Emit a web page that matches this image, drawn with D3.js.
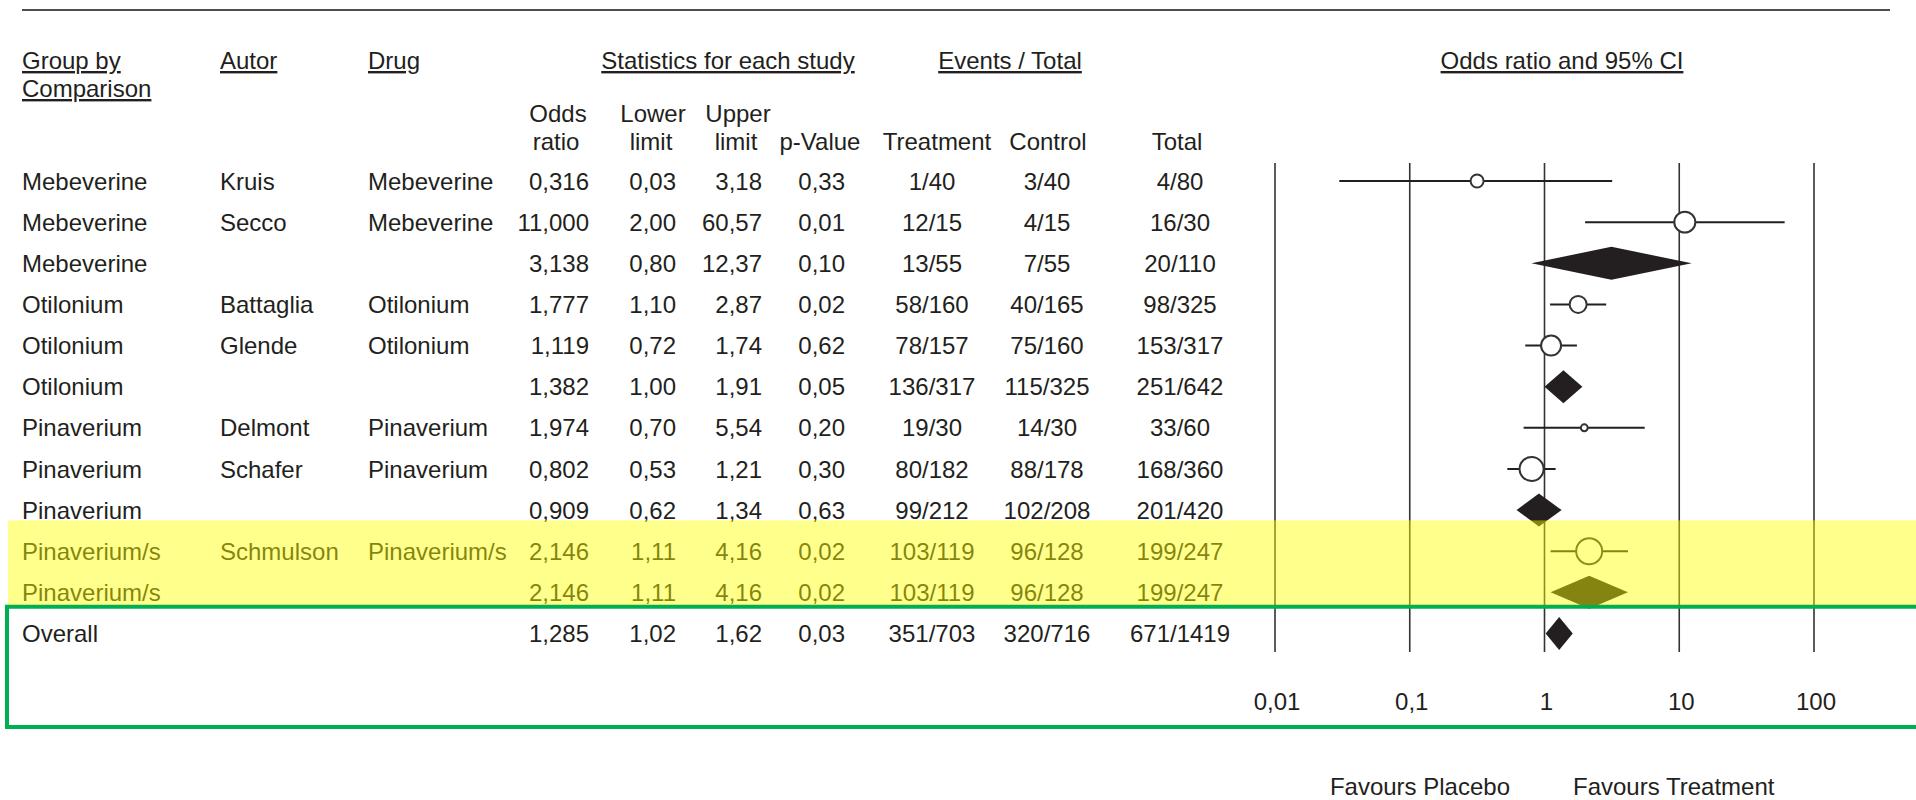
<!DOCTYPE html>
<html>
<head>
<meta charset="utf-8">
<script src="https://cdn.jsdelivr.net/npm/d3@7"></script>
<style>
  body { margin: 0; background: #fff; }
  svg { display: block; }
  text { font-family: "Liberation Sans", Arial, sans-serif; font-size: 24px; fill: #231f20; }
  .u { text-decoration: underline; }
</style>
</head>
<body>
<svg width="1916" height="800"></svg>
<script>
// ---- data ----
var groups = ["Mebeverine", "Mebeverine", "Mebeverine", "Otilonium", "Otilonium", "Otilonium",
  "Pinaverium", "Pinaverium", "Pinaverium", "Pinaverium/s", "Pinaverium/s", "Overall"];
var authors = ["Kruis", "Secco", "", "Battaglia", "Glende", "", "Delmont", "Schafer", "", "Schmulson", "", ""];
var drugs = ["Mebeverine", "Mebeverine", "", "Otilonium", "Otilonium", "", "Pinaverium", "Pinaverium", "",
  "Pinaverium/s", "", ""];
var oddsRatio = [0.316, 11.000, 3.138, 1.777, 1.119, 1.382, 1.974, 0.802, 0.909, 2.146, 2.146, 1.285];
var lowerLimit = [0.03, 2.00, 0.80, 1.10, 0.72, 1.00, 0.70, 0.53, 0.62, 1.11, 1.11, 1.02];
var upperLimit = [3.18, 60.57, 12.37, 2.87, 1.74, 1.91, 5.54, 1.21, 1.34, 4.16, 4.16, 1.62];
var pValue = [0.33, 0.01, 0.10, 0.02, 0.62, 0.05, 0.20, 0.30, 0.63, 0.02, 0.02, 0.03];
var treatment = ["1/40", "12/15", "13/55", "58/160", "78/157", "136/317", "19/30", "80/182", "99/212",
  "103/119", "103/119", "351/703"];
var control = ["3/40", "4/15", "7/55", "40/165", "75/160", "115/325", "14/30", "88/178", "102/208",
  "96/128", "96/128", "320/716"];
var totals = ["4/80", "16/30", "20/110", "98/325", "153/317", "251/642", "33/60", "168/360", "201/420",
  "199/247", "199/247", "671/1419"];
var isSummary = [false, false, true, false, false, true, false, false, true, false, true, true];
// relative study weight (marker area)
var weight = [42, 110, 0, 72, 100, 0, 12, 144, 0, 169, 0, 0];
var axisTicks = [0.01, 0.1, 1, 10, 100];
var highlightRows = [9, 10];

var rows = groups.map((g, i) => ({
  i: i, group: g, author: authors[i], drug: drugs[i],
  or: oddsRatio[i], lo: lowerLimit[i], hi: upperLimit[i], p: pValue[i],
  tr: treatment[i], ct: control[i], tot: totals[i],
  summary: isSummary[i], w: weight[i]
}));

var svg = d3.select("svg");
var ink = "#231f20";

var loc = d3.formatLocale({ decimal: ",", thousands: ".", grouping: [3], currency: ["", ""] });
var f3 = loc.format(".3f");
var f2 = loc.format(".2f");
var ftick = loc.format("~g");

var x = d3.scaleLog().domain([0.01, 100]).range([1275, 1814]);
var y = d3.scalePoint().domain(d3.range(rows.length)).range([181, 633.5]);
var r = d3.scaleSqrt().domain([0, 169]).range([0, 13]);

// top rule
svg.append("line")
  .attr("x1", 22).attr("x2", 1890).attr("y1", 10).attr("y2", 10)
  .attr("stroke", "#4d4d4d").attr("stroke-width", 2);

// ---- headers ----
var head = svg.append("g").attr("class", "header");
var h1 = [
  { t: "Group by", x: 22, y: 69, a: "start" },
  { t: "Comparison", x: 22, y: 97, a: "start" },
  { t: "Autor", x: 220, y: 69, a: "start" },
  { t: "Drug", x: 368, y: 69, a: "start" },
  { t: "Statistics for each study", x: 728, y: 69, a: "middle" },
  { t: "Events / Total", x: 1010, y: 69, a: "middle" },
  { t: "Odds ratio and 95% CI", x: 1562, y: 69, a: "middle" }
];
head.selectAll("text.u").data(h1).enter().append("text")
  .attr("class", "u")
  .attr("x", d => d.x).attr("y", d => d.y)
  .attr("text-anchor", d => d.a)
  .text(d => d.t);

var h2 = [
  { t: "Odds", x: 558, y: 122 }, { t: "ratio", x: 556, y: 150 },
  { t: "Lower", x: 653, y: 122 }, { t: "limit", x: 651, y: 150 },
  { t: "Upper", x: 738, y: 122 }, { t: "limit", x: 736, y: 150 },
  { t: "p-Value", x: 820, y: 150 },
  { t: "Treatment", x: 937, y: 150 },
  { t: "Control", x: 1048, y: 150 },
  { t: "Total", x: 1177, y: 150 }
];
head.selectAll("text.h2").data(h2).enter().append("text")
  .attr("class", "h2")
  .attr("x", d => d.x).attr("y", d => d.y)
  .attr("text-anchor", "middle")
  .text(d => d.t);

// ---- table ----
var cols = [
  { key: d => d.group, x: 22, a: "start" },
  { key: d => d.author, x: 220, a: "start" },
  { key: d => d.drug, x: 368, a: "start" },
  { key: d => f3(d.or), x: 589, a: "end" },
  { key: d => f2(d.lo), x: 676, a: "end" },
  { key: d => f2(d.hi), x: 762, a: "end" },
  { key: d => f2(d.p), x: 845, a: "end" },
  { key: d => d.tr, x: 932, a: "middle" },
  { key: d => d.ct, x: 1047, a: "middle" },
  { key: d => d.tot, x: 1180, a: "middle" }
];

var rowG = svg.append("g").attr("class", "rows")
  .selectAll("g").data(rows).enter().append("g")
  .attr("transform", d => "translate(0," + y(d.i) + ")");

cols.forEach(c => {
  rowG.append("text")
    .attr("x", c.x).attr("y", 8.6)
    .attr("text-anchor", c.a)
    .text(c.key);
});

// ---- forest plot ----
var plot = svg.append("g").attr("class", "plot");

plot.selectAll("line.grid").data(axisTicks).enter().append("line")
  .attr("class", "grid")
  .attr("x1", d => x(d)).attr("x2", d => x(d))
  .attr("y1", 163).attr("y2", 652)
  .attr("stroke", "#333").attr("stroke-width", 1.6);

plot.selectAll("text.tick").data(axisTicks).enter().append("text")
  .attr("class", "tick")
  .attr("x", d => x(d) + 2).attr("y", 710)
  .attr("text-anchor", "middle")
  .text(d => ftick(d));

var studies = rows.filter(d => !d.summary);
var pooled = rows.filter(d => d.summary);

plot.selectAll("line.ci").data(studies).enter().append("line")
  .attr("class", "ci")
  .attr("x1", d => x(d.lo)).attr("x2", d => x(d.hi))
  .attr("y1", d => y(d.i)).attr("y2", d => y(d.i))
  .attr("stroke", ink).attr("stroke-width", 2);

plot.selectAll("circle").data(studies).enter().append("circle")
  .attr("cx", d => x(d.or)).attr("cy", d => y(d.i))
  .attr("r", d => r(d.w))
  .attr("fill", "#fff").attr("stroke", "#333").attr("stroke-width", 2);

var half = 16.5;
plot.selectAll("path.diamond").data(pooled).enter().append("path")
  .attr("class", "diamond")
  .attr("d", d => {
    var cy = y(d.i);
    return "M" + x(d.lo) + "," + cy + "L" + x(d.or) + "," + (cy - half) +
      "L" + x(d.hi) + "," + cy + "L" + x(d.or) + "," + (cy + half) + "Z";
  })
  .attr("fill", ink);

svg.append("text").attr("x", 1510).attr("y", 795).attr("text-anchor", "end").text("Favours Placebo");
svg.append("text").attr("x", 1573).attr("y", 795).attr("text-anchor", "start").text("Favours Treatment");

// ---- highlight overlay and frame ----
var step = y.step();
svg.append("rect")
  .attr("x", 8).attr("width", 1916)
  .attr("y", y(highlightRows[0]) - step * 0.75)
  .attr("height", y(highlightRows[1]) - y(highlightRows[0]) + step * 1.1)
  .attr("fill", "#ffff00").attr("opacity", 0.45);

var gTop = y(highlightRows[1]) + step * 0.35;
svg.append("path")
  .attr("d", "M1920," + gTop + "H7V727H1920")
  .attr("fill", "none").attr("stroke", "#00b050").attr("stroke-width", 4);
</script>
</body>
</html>
